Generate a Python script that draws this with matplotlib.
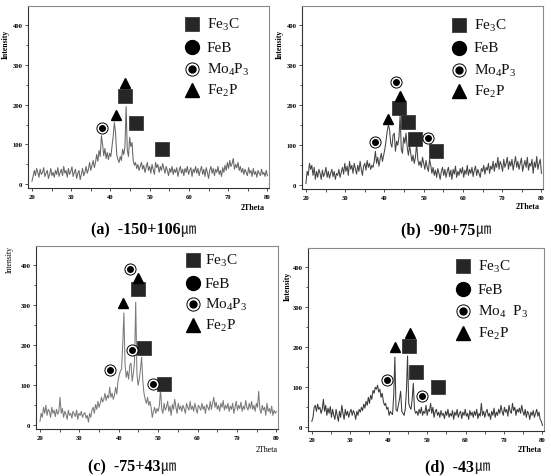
import numpy as np
import matplotlib
matplotlib.use('Agg')
import matplotlib.pyplot as plt
from matplotlib.lines import Line2D
from matplotlib.ticker import MultipleLocator
from matplotlib.offsetbox import TextArea, HPacker, AnnotationBbox

plt.rcParams['font.family'] = ['Liberation Serif', 'Noto Sans CJK JP', 'DejaVu Sans']
plt.rcParams['mathtext.fontset'] = 'custom'
plt.rcParams['mathtext.rm'] = 'Liberation Serif'
plt.rcParams['mathtext.it'] = 'Liberation Serif:italic'
plt.rcParams['mathtext.bf'] = 'Liberation Serif:bold'

# ---------------- data ----------------
theta_start, theta_step, theta_count = 20.0, 0.3, 201
two_theta = theta_start + theta_step * np.arange(theta_count)

intensity_a = [
    8, 20, 35, 22, 40, 30, 18, 38, 25, 30, 42, 20, 28, 35, 15, 25, 40, 22, 30, 18,
    35, 25, 42, 20, 30, 38, 22, 45, 28, 35, 18, 40, 25, 32, 44, 20, 30, 38, 15, 28,
    35, 12, 25, 40, 22, 30, 45, 28, 38, 55, 35, 48, 60, 42, 55, 75, 58, 85, 70, 122,
    100, 72, 90, 65, 80, 62, 78, 70, 95, 120, 155, 130, 75, 62, 55, 70, 60, 88, 75, 95,
    195, 85, 70, 118, 95, 105, 60, 48, 55, 40, 50, 35, 45, 55, 38, 48, 30, 42, 55, 35,
    45, 28, 50, 38, 25, 55, 42, 50, 30, 45, 35, 52, 40, 28, 45, 35, 22, 40, 30, 45,
    25, 38, 30, 42, 20, 35, 45, 28, 38, 22, 40, 30, 45, 25, 35, 42, 20, 38, 30, 45,
    28, 40, 22, 35, 45, 25, 38, 20, 42, 30, 15, 35, 45, 28, 40, 22, 38, 30, 45, 25,
    35, 20, 42, 30, 48, 35, 55, 40, 60, 45, 52, 65, 38, 50, 42, 55, 35, 45, 30, 40,
    25, 38, 30, 22, 42, 28, 35, 20, 40, 25, 32, 18, 35, 28, 22, 38, 25, 30, 20, 35,
    22]

intensity_b = [
    5, 35, 25, 55, 40, 50, 25, 45, 15, 35, 20, 40, 30, 15, 38, 22, 30, 45, 20, 35,
    18, 30, 40, 22, 35, 15, 30, 25, 40, 20, 32, 45, 28, 55, 35, 48, 25, 60, 40, 50,
    30, 55, 42, 28, 50, 35, 60, 40, 25, 48, 55, 38, 62, 45, 55, 40, 50, 45, 60, 85,
    55, 70, 48, 65, 80, 60, 75, 90, 110, 135, 150, 140, 105, 95, 125, 130, 85, 110, 100, 120,
    175, 90, 80, 120, 105, 130, 95, 75, 100, 80, 60, 75, 55, 70, 105, 65, 50, 60, 45, 70,
    55, 40, 62, 45, 35, 65, 50, 30, 45, 25, 38, 20, 42, 30, 15, 35, 45, 25, 40, 20,
    35, 45, 22, 38, 15, 40, 28, 48, 20, 35, 25, 42, 30, 45, 20, 38, 28, 50, 25, 40,
    30, 45, 22, 38, 48, 25, 40, 30, 20, 42, 35, 50, 28, 45, 38, 55, 30, 48, 40, 60,
    35, 55, 45, 70, 40, 60, 50, 35, 65, 45, 55, 70, 40, 60, 48, 65, 38, 55, 72, 45,
    60, 40, 55, 68, 35, 50, 62, 45, 70, 38, 55, 48, 65, 30, 58, 45, 72, 40, 55, 65,
    30]

intensity_c = [
    10, 30, 20, 45, 30, 50, 25, 40, 35, 20, 45, 30, 38, 22, 40, 28, 35, 70, 30, 42,
    20, 35, 28, 15, 38, 25, 30, 18, 35, 28, 22, 38, 15, 30, 25, 35, 20, 28, 32, 18,
    25, 8, 30, 20, 38, 45, 30, 52, 40, 60, 45, 55, 70, 58, 65, 80, 62, 75, 68, 95,
    70, 80, 65, 75, 95, 78, 110, 125, 135, 140, 200, 280, 150, 120, 135, 115, 150, 155, 110, 130,
    160, 307, 130, 100, 115, 140, 170, 110, 80, 65, 55, 70, 50, 60, 45, 20, 35, 45, 30, 42,
    35, 50, 90, 40, 30, 55, 38, 45, 60, 35, 48, 25, 52, 40, 65, 45, 30, 55, 40, 48,
    35, 50, 42, 30, 55, 45, 38, 60, 40, 48, 35, 55, 42, 30, 50, 45, 38, 55, 40, 48,
    30, 52, 45, 38, 60, 40, 55, 70, 45, 58, 40, 50, 35, 55, 45, 62, 38, 50, 42, 55,
    35, 48, 40, 55, 30, 45, 60, 38, 50, 42, 58, 35, 48, 40, 62, 45, 38, 55, 42, 60,
    40, 50, 35, 55, 45, 85, 40, 30, 50, 38, 45, 25, 55, 35, 42, 30, 48, 25, 38, 30,
    35]

intensity_d = [
    15, 25, 50, 55, 40, 58, 45, 50, 35, 45, 70, 40, 55, 30, 48, 35, 52, 25, 45, 30,
    20, 45, 30, 15, 40, 25, 55, 35, 20, 45, 30, 40, 25, 38, 45, 30, 42, 35, 20, 40,
    30, 45, 38, 50, 42, 58, 48, 65, 55, 75, 60, 80, 70, 92, 85, 100, 95, 105, 88, 95,
    75, 85, 65, 55, 60, 45, 50, 30, 40, 35, 32, 80, 175, 45, 40, 55, 70, 90, 40, 35,
    30, 45, 90, 178, 60, 50, 45, 70, 110, 45, 35, 40, 30, 45, 35, 50, 30, 40, 35, 55,
    30, 45, 40, 60, 35, 50, 25, 40, 45, 30, 38, 25, 42, 30, 35, 22, 40, 30, 45, 25,
    35, 28, 42, 20, 38, 30, 45, 25, 35, 40, 22, 38, 30, 45, 28, 35, 20, 42, 30, 38,
    25, 40, 30, 45, 22, 35, 28, 60, 30, 40, 25, 38, 45, 28, 35, 20, 40, 30, 48, 25,
    38, 30, 45, 35, 55, 40, 30, 50, 38, 45, 28, 55, 40, 35, 60, 42, 50, 30, 45, 38,
    48, 35, 55, 40, 30, 45, 25, 40, 35, 20, 38, 30, 42, 25, 35, 45, 28, 38, 20, 15,
    5]

# peak markers (2theta, intensity) per phase
fe3c_a = [(43.8, 221), (46.5, 154), (53.2, 88)]
fe2p_a = [(43.8, 254), (41.3, 175)]
mo4p3_a = [(37.8, 142)]

fe3c_b = [(43.8, 192), (45.95, 159), (47.9, 115), (53.2, 86)]
fe2p_b = [(43.9, 223), (41.0, 166)]
mo4p3_b = [(42.9, 257), (37.7, 108), (51.0, 117)]

fe3c_c = [(44.85, 339), (46.5, 192), (51.4, 104)]
fe2p_c = [(45.0, 368), (41.2, 306)]
mo4p3_c = [(42.9, 389), (43.4, 187), (37.7, 139), (48.6, 102)]

fe3c_d = [(45.4, 203), (47.2, 138), (52.8, 101)]
fe2p_d = [(45.6, 236), (41.7, 200)]
mo4p3_d = [(39.6, 117), (48.7, 78)]

phase_labels = ['Fe$_{\\mathrm{3}}$C', 'FeB', 'Mo$_{\\mathrm{4}}$P$_{\\mathrm{3}}$', 'Fe$_{\\mathrm{2}}$P']
phase_labels_d = ['Fe$_{\\mathrm{3}}$C', 'FeB', 'Mo$_{\\mathrm{4}}$  P$_{\\mathrm{3}}$', 'Fe$_{\\mathrm{2}}$P']

captions = ['(a)  -150+106\u339b', '(b)  -90+75\u339b', '(c)  -75+43\u339b', '(d)  -43\u339b']
x_ticks = [20, 30, 40, 50, 60, 70, 80]
y_ticks = [0, 100, 200, 300, 400]

# ---------------- layout ----------------
W, H = 551, 477
fig = plt.figure(figsize=(W / 100, H / 100), dpi=100)
fig.patch.set_facecolor('white')


def fx(px):
    return px / W


def fy(py):
    return 1 - py / H


SQ = dict(marker='s', mfc='#262626', mec='#3c3c3c', mew=0.6, ls='none')
TRI = dict(marker='^', mfc='black', mec='black', ls='none')
CIR = dict(marker='o', mfc='black', mec='black', ls='none')


def ring(ax, pts, outer, inner):
    xs = [p[0] for p in pts]
    ys = [p[1] for p in pts]
    ax.plot(xs, ys, marker='o', ms=outer, mfc='white', mec='black', mew=0.7,
            ls='none', zorder=5)
    ax.plot(xs, ys, marker='o', ms=inner, mfc='black', mec='black', ls='none',
            zorder=6)


def caption_box(text, pos):
    body, unit = text[:-1], text[-1]
    t1 = TextArea(body, textprops=dict(fontsize=11.5, fontweight='bold',
                                       family='Liberation Serif'))
    t2 = TextArea(unit, textprops=dict(fontsize=11, fontweight='normal',
                                       family='Noto Sans CJK JP', color='#222222'))
    box = HPacker(children=[t1, t2], align='baseline', pad=0, sep=0)
    ab = AnnotationBbox(box, (fx(pos[0]), fy(pos[1])), xycoords='figure fraction',
                        frameon=False, box_alignment=(0.5, 0.5), pad=0)
    fig.add_artist(ab)


def panel(rect, data, line_color, fe3c, fe2p, mo4p3, labels, legend_px,
          intensity_px, theta_px, caption, caption_px, weight):
    left, top, w, h = rect
    ax = fig.add_axes([fx(left), fy(top + h), w / W, h / H])
    ax.plot(two_theta, data, color=line_color, lw=0.75, zorder=2)
    ax.set_xlim(19.0, 80.4)
    ax.set_ylim(-9, 447)
    ax.set_xticks(x_ticks)
    ax.set_yticks(y_ticks)
    ax.xaxis.set_minor_locator(MultipleLocator(5))
    ax.yaxis.set_minor_locator(MultipleLocator(50))
    ax.tick_params(which='both', direction='out', width=0.6, color='#333333',
                   labelsize=4.8)
    ax.tick_params(which='major', length=2.4)
    ax.tick_params(which='minor', length=1.8)
    ax.tick_params(axis='y', pad=1.5)
    ax.tick_params(axis='x', pad=2.0)
    for lbl in ax.get_xticklabels() + ax.get_yticklabels():
        lbl.set_fontweight('bold')
    for s in ['left', 'bottom']:
        ax.spines[s].set_color('#333333')
        ax.spines[s].set_linewidth(0.8)
    for s in ['top', 'right']:
        ax.spines[s].set_color('#8a8a8a')
        ax.spines[s].set_linewidth(0.8)

    ax.plot([p[0] for p in fe3c], [p[1] for p in fe3c], ms=9.5, zorder=5, **SQ)
    ax.plot([p[0] for p in fe2p], [p[1] for p in fe2p], ms=7, zorder=5, **TRI)
    ring(ax, mo4p3, 8, 4)

    # legend
    mx, tx, rows = legend_px
    styles = ['sq', 'cir', 'ring', 'tri']
    for st, lab, ry in zip(styles, labels, rows):
        X, Y = fx(mx), fy(ry)
        if st == 'sq':
            fig.add_artist(Line2D([X], [Y], ms=10, transform=fig.transFigure, **SQ))
        elif st == 'cir':
            fig.add_artist(Line2D([X], [Y], ms=10, transform=fig.transFigure, **CIR))
        elif st == 'tri':
            fig.add_artist(Line2D([X], [Y], ms=9.5, transform=fig.transFigure, **TRI))
        else:
            fig.add_artist(Line2D([X], [Y], marker='o', ms=9.5, mfc='white', mec='black',
                                  mew=0.7, ls='none', transform=fig.transFigure))
            fig.add_artist(Line2D([X], [Y], marker='o', ms=5, mfc='black', mec='black',
                                  ls='none', transform=fig.transFigure))
        fig.text(fx(tx), Y, lab, fontsize=11, va='center', ha='left', color='#111111')

    fig.text(fx(intensity_px[0]), fy(intensity_px[1]), 'Intensity', rotation=90,
             fontsize=5.6, fontweight=weight, ha='center', va='center')
    fig.text(fx(theta_px[0]), fy(theta_px[1]), '2Theta', fontsize=5.8,
             fontweight=weight, ha='center', va='center')
    caption_box(caption, caption_px)
    return ax


panel((28, 7, 241, 182), intensity_a, '#666666', fe3c_a, fe2p_a, mo4p3_a, phase_labels,
      (192, 207, [25, 48, 70, 91]), (6, 44), (253, 208), captions[0], (143, 230), 'bold')
panel((302, 7, 241, 183), intensity_b, '#444444', fe3c_b, fe2p_b, mo4p3_b, phase_labels,
      (459, 474, [26, 49, 71, 92]), (280, 44), (528, 207), captions[1], (446, 230), 'bold')
panel((36, 247, 242, 183), intensity_c, '#7a7a7a', fe3c_c, fe2p_c, mo4p3_c, phase_labels,
      (193, 205, [261, 284, 305, 326]), (10, 260), (267, 450), captions[2], (132, 467), 'normal')
panel((308, 249, 236, 183), intensity_d, '#3a3a3a', fe3c_d, fe2p_d, mo4p3_d, phase_labels_d,
      (463, 478, [267, 290, 312, 334]), (288, 286), (530, 450), captions[3], (457, 467), 'bold')

fig.savefig('out.png', dpi=100, facecolor='white')
